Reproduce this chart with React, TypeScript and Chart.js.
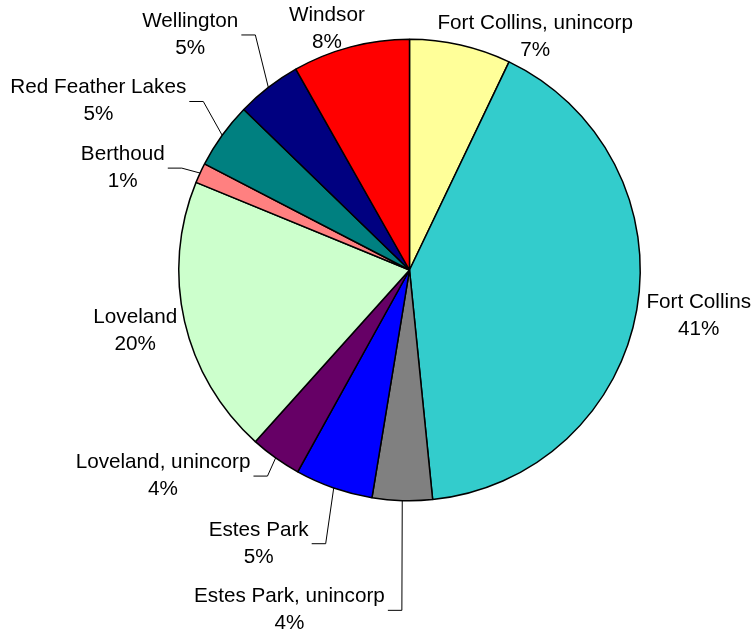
import React, { useEffect, useRef } from "react";
import { Chart, registerables } from "chart.js";

Chart.register(...registerables);

const categories: string[] = [
  "Fort Collins, unincorp",
  "Fort Collins",
  "Estes Park, unincorp",
  "Estes Park",
  "Loveland, unincorp",
  "Loveland",
  "Berthoud",
  "Red Feather Lakes",
  "Wellington",
  "Windsor",
];

const shares: number[] = [7.1, 41.3, 4.2, 5.45, 3.6, 19.55, 1.4, 4.65, 4.55, 8.2];

const sliceColors: string[] = [
  "#FFFF99",
  "#33CCCC",
  "#808080",
  "#0000FF",
  "#660066",
  "#CCFFCC",
  "#FF8080",
  "#008080",
  "#000080",
  "#FF0000",
];

// Label placement relative to the pie centre, in pixels for a 231px radius
// [dx of text centre, dy of first-line baseline, has leader line]
const LABEL_LAYOUT: [number, number, boolean][] = [
  [125.8, -241.7, false],
  [289.5, 38.3, false],
  [-120.2, 332.7, true],
  [-151, 266, true],
  [-246.7, 198.3, true],
  [-274.5, 53.3, false],
  [-287, -110, true],
  [-311.5, -176.7, true],
  [-219.5, -243.3, true],
  [-82.7, -249, false],
];

const FONT = "20.7px 'Liberation Sans', Arial, sans-serif";
const LINE_GAP = 27;

const labelPlugin = {
  id: "outsideLabels",
  afterDatasetsDraw(chart: any) {
    const ctx = chart.ctx as CanvasRenderingContext2D;
    const meta = chart.getDatasetMeta(0);
    const data = chart.data.datasets[0].data as number[];
    const total = data.reduce((a, b) => a + b, 0);
    ctx.save();
    ctx.font = FONT;
    ctx.fillStyle = "#000";
    ctx.textAlign = "center";
    ctx.textBaseline = "alphabetic";
    meta.data.forEach((arc: any, i: number) => {
      const { x, y, startAngle, endAngle, outerRadius } = arc.getProps(
        ["x", "y", "startAngle", "endAngle", "outerRadius"],
        true
      );
      const s = outerRadius / 231;
      const [dx, dy, leader] = LABEL_LAYOUT[i];
      const cx = x + dx * s;
      const by = y + dy * s;
      const line1 = chart.data.labels[i] as string;
      const line2 = Math.round((data[i] / total) * 100) + "%";
      ctx.fillText(line1, cx, by);
      ctx.fillText(line2, cx, by + LINE_GAP);
      if (leader) {
        const w = Math.max(ctx.measureText(line1).width, ctx.measureText(line2).width);
        const sx = cx + w / 2 + 3;
        const sy = by + 8;
        const mid = (startAngle + endAngle) / 2;
        const ax = x + Math.cos(mid) * outerRadius;
        const ay = y + Math.sin(mid) * outerRadius;
        ctx.beginPath();
        ctx.strokeStyle = "#000";
        ctx.lineWidth = 1;
        ctx.moveTo(sx, sy);
        ctx.lineTo(sx + 14, sy);
        ctx.lineTo(ax, ay);
        ctx.stroke();
      }
    });
    ctx.restore();
  },
};

export default function App() {
  const canvasRef = useRef<HTMLCanvasElement | null>(null);

  useEffect(() => {
    if (!canvasRef.current) return;
    const chart = new Chart(canvasRef.current, {
      type: "pie",
      data: {
        labels: categories,
        datasets: [
          {
            data: shares,
            backgroundColor: sliceColors,
            borderColor: "#000",
            borderWidth: 1.5,
          },
        ],
      },
      options: {
        responsive: false,
        animation: false,
        layout: {
          padding: { left: 178, right: 111, top: 38.5, bottom: 130.5 },
        },
        plugins: {
          legend: { display: false },
          tooltip: { enabled: false },
        },
      },
      plugins: [labelPlugin],
    });
    return () => chart.destroy();
  }, []);

  return (
    <div style={{ position: "absolute", left: 0, top: 0, width: 752, height: 632, background: "#fff" }}>
      <canvas ref={canvasRef} width={752} height={632} style={{ width: 752, height: 632 }} />
    </div>
  );
}
